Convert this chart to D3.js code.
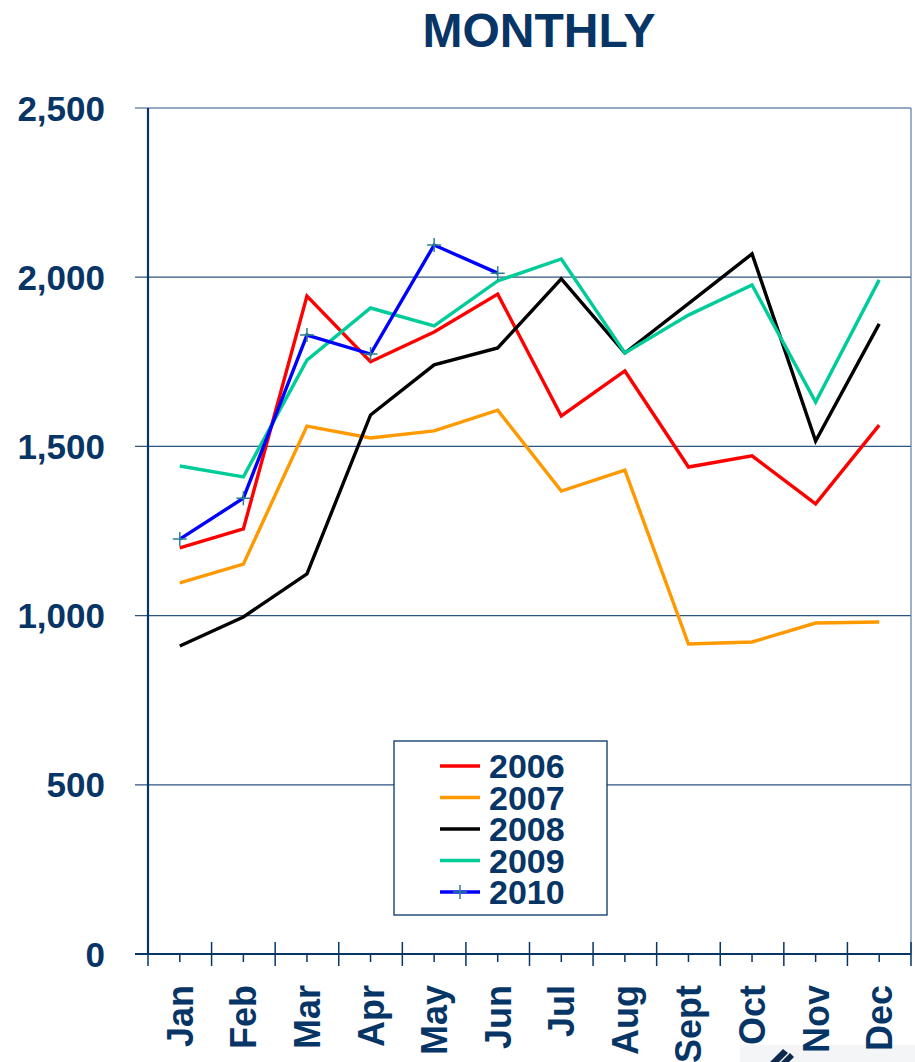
<!DOCTYPE html>
<html>
<head>
<meta charset="utf-8">
<script src="https://cdn.jsdelivr.net/npm/d3@7"></script>
<style>
  body { margin: 0; background: #fff; }
  svg text { font-family: "Liberation Sans", Arial, sans-serif; font-weight: bold; fill: #073566; }
</style>
</head>
<body>
<div id="chart"></div>
<script>
// values
const months = ['Jan', 'Feb', 'Mar', 'Apr', 'May', 'Jun', 'Jul', 'Aug', 'Sept', 'Oct', 'Nov', 'Dec'];
const yTicks = [0, 500, 1000, 1500, 2000, 2500];
const s2006 = [1200, 1256, 1944, 1750, 1838, 1950, 1590, 1723, 1439, 1472, 1330, 1563];
const s2007 = [1097, 1152, 1560, 1525, 1546, 1607, 1368, 1430, 916, 922, 978, 981];
const s2008 = [910, 996, 1123, 1593, 1741, 1791, 1995, 1776, 1922, 2069, 1516, 1862];
const s2009 = [1442, 1410, 1755, 1909, 1856, 1989, 2054, 1776, 1888, 1977, 1631, 1992];
const s2010 = [1226, 1347, 1829, 1773, 2095, 2012];

const series = [
  {name: '2006', values: s2006, color: '#ff0000'},
  {name: '2007', values: s2007, color: '#ff9900'},
  {name: '2008', values: s2008, color: '#000000'},
  {name: '2009', values: s2009, color: '#00cc99'},
  {name: '2010', values: s2010, color: '#0000ff', marker: true}
];

const width = 915, height = 1062;
const margin = {top: 108, right: 4, bottom: 108, left: 148};
const navy = '#073566';

const svg = d3.select('#chart').append('svg')
    .attr('width', width)
    .attr('height', height);

const x = d3.scaleBand()
    .domain(months)
    .range([margin.left, width - margin.right])
    .padding(0);

const y = d3.scaleLinear()
    .domain([0, 2500])
    .range([height - margin.bottom, margin.top]);

const cx = m => x(m) + x.bandwidth() / 2;

// corner of a logo cut off at the bottom right (sits under the month labels)
svg.append('rect')
    .attr('x', 740).attr('y', 1045)
    .attr('width', 175).attr('height', 17)
    .attr('fill', '#f4f5f7');
svg.append('path')
    .attr('d', 'M770,1062 L783,1049 L788,1053 L779,1062 Z M781,1062 L790,1053 L794,1057 L789,1062 Z')
    .attr('fill', '#0d2a4e');

// title
svg.append('text')
    .attr('x', 539)
    .attr('y', 47)
    .attr('text-anchor', 'middle')
    .style('font-size', '48px')
    .text('MONTHLY');

// gridlines (they also stick out left of the axis as ticks)
svg.append('g').selectAll('line')
    .data(yTicks)
  .join('line')
    .attr('x1', margin.left - 13)
    .attr('x2', width - margin.right)
    .attr('y1', d => y(d))
    .attr('y2', d => y(d))
    .attr('stroke', d => d === 0 ? navy : '#2c5580')
    .attr('stroke-width', d => d === 0 ? 2 : 1.2);

// right border
svg.append('line')
    .attr('x1', width - margin.right).attr('x2', width - margin.right)
    .attr('y1', y(2500)).attr('y2', y(0))
    .attr('stroke', '#5a7ca0').attr('stroke-width', 1.2);

// y axis line
svg.append('line')
    .attr('x1', margin.left).attr('x2', margin.left)
    .attr('y1', y(2500)).attr('y2', y(0))
    .attr('stroke', navy).attr('stroke-width', 2.2);

// y tick labels
svg.append('g').selectAll('text')
    .data(yTicks)
  .join('text')
    .attr('x', 105)
    .attr('y', d => y(d))
    .attr('dy', '0.36em')
    .attr('text-anchor', 'end')
    .style('font-size', '35px')
    .text(d => d3.format(',')(d));

// x ticks: long ones at band edges, short ones at band centres
const edges = months.map(m => x(m)).concat([x.range()[1]]);
svg.append('g').selectAll('line')
    .data(edges)
  .join('line')
    .attr('x1', d => d).attr('x2', d => d)
    .attr('y1', y(0) - 12).attr('y2', y(0) + 12)
    .attr('stroke', navy).attr('stroke-width', 1.5);

svg.append('g').selectAll('line')
    .data(months)
  .join('line')
    .attr('x1', d => cx(d)).attr('x2', d => cx(d))
    .attr('y1', y(0)).attr('y2', y(0) + 8)
    .attr('stroke', navy).attr('stroke-width', 1.5);

// month labels
svg.append('g').selectAll('text')
    .data(months)
  .join('text')
    .attr('transform', d => `translate(${cx(d)},985) rotate(-90)`)
    .attr('dy', '0.36em')
    .attr('text-anchor', 'end')
    .style('font-size', '36px')
    .text(d => d);

// lines
const line = d3.line()
    .x((d, i) => cx(months[i]))
    .y(d => y(d));

svg.append('g').selectAll('path')
    .data(series)
  .join('path')
    .attr('d', d => line(d.values))
    .attr('fill', 'none')
    .attr('stroke', d => d.color)
    .attr('stroke-width', 3.4)
    .attr('stroke-linejoin', 'miter');

// plus markers on 2010
series.filter(s => s.marker).forEach(s => {
  svg.append('g').selectAll('path')
      .data(s.values)
    .join('path')
      .attr('d', 'M-7,0H7M0,-7V7')
      .attr('transform', (d, i) => `translate(${cx(months[i])},${y(d)})`)
      .attr('stroke', '#2a8290')
      .attr('stroke-width', 1.5);
});

// legend
const legend = svg.append('g')
    .attr('transform', 'translate(394,741)');

legend.append('rect')
    .attr('width', 213)
    .attr('height', 174)
    .attr('fill', '#fff')
    .attr('stroke', navy)
    .attr('stroke-width', 1.3);

const item = legend.selectAll('.item')
    .data(series)
  .join('g')
    .attr('class', 'item')
    .attr('transform', (d, i) => `translate(0,${25 + i * 31.5})`);

item.append('line')
    .attr('x1', 46).attr('x2', 86)
    .attr('stroke', d => d.color)
    .attr('stroke-width', 3.4);

item.filter(d => d.marker).append('path')
    .attr('d', 'M-7,0H7M0,-7V7')
    .attr('transform', 'translate(66,0)')
    .attr('stroke', '#2a8290')
    .attr('stroke-width', 1.5);

item.append('text')
    .attr('x', 95)
    .attr('dy', '0.36em')
    .style('font-size', '34px')
    .text(d => d.name);
</script>
</body>
</html>
